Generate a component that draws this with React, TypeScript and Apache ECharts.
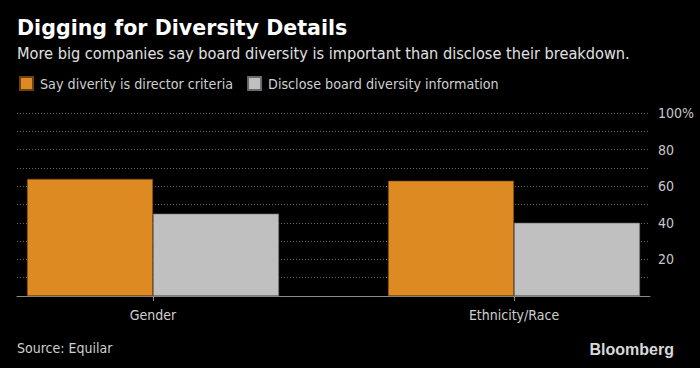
import React, { useEffect, useRef } from "react";
import * as echarts from "echarts";

const categories = ["Gender", "Ethnicity/Race"];
const seriesNames = ["Say diverity is director criteria", "Disclose board diversity information"];
const sayCriteria = [64, 63];
const discloseInfo = [45, 40];
const yTicks = [0, 20, 40, 60, 80, 100];

const FONT = "'Liberation Sans Narrow', 'DejaVu Sans Condensed', 'Noto Sans', sans-serif";

export default function App() {
  const ref = useRef<HTMLDivElement>(null);
  useEffect(() => {
    document.body.style.margin = "0";
    document.body.style.background = "#000";
    const chart = echarts.init(ref.current!, null, { renderer: "svg" });
    chart.setOption({
      animation: false,
      backgroundColor: "#000",
      textStyle: { fontFamily: FONT },
      title: [
        {
          text: "Digging for Diversity Details",
          left: 17,
          top: 17,
          padding: 0,
          textStyle: { color: "#fff", fontSize: 20.6, fontWeight: "bold", fontFamily: "'DejaVu Sans', sans-serif" },
        },
        {
          text: "More big companies say board diversity is important than disclose their breakdown.",
          left: 17,
          top: 45,
          padding: 0,
          textStyle: { color: "#e0e0e0", fontSize: 16.2, fontWeight: "normal", fontFamily: FONT },
        },
        {
          text: "Source: Equilar",
          left: 17,
          top: 341,
          padding: 0,
          textStyle: { color: "#cfcfcf", fontSize: 14, fontWeight: "normal", fontFamily: FONT },
        },
        {
          text: "Bloomberg",
          right: 26,
          top: 341,
          padding: 0,
          textStyle: { color: "#d8d8d8", fontSize: 16, fontWeight: "bold", fontFamily: "'Liberation Sans', sans-serif" },
        },
      ],
      legend: {
        left: 19,
        top: 76,
        padding: 0,
        itemWidth: 13,
        itemHeight: 13,
        itemGap: 14,
        icon: "rect",
        textStyle: { color: "#cfcfcf", fontSize: 14.2, fontFamily: FONT, padding: [0, 0, 0, 2] },
        data: seriesNames,
      },
      grid: [
        { left: 17, right: 50, top: 113, bottom: 72 },
        { left: 153, right: 186, top: 113, bottom: 72 },
      ],
      xAxis: [
        {
          gridIndex: 0,
          type: "category",
          data: ["_"],
          axisLine: { show: true, lineStyle: { color: "#8a8a8a", width: 1 } },
          axisTick: { show: false },
          axisLabel: { show: false },
        },
        {
          gridIndex: 1,
          type: "category",
          data: categories,
          boundaryGap: false,
          axisLine: { show: false },
          axisTick: { show: true, length: 5, lineStyle: { color: "#8a8a8a" } },
          axisLabel: { color: "#cfcfcf", fontSize: 14, margin: 12, fontFamily: FONT },
        },
      ],
      yAxis: [
        {
          gridIndex: 0,
          type: "value",
          position: "right",
          min: 0,
          max: 100,
          interval: 10,
          axisLine: { show: false },
          axisTick: { show: false },
          splitLine: { show: true, lineStyle: { color: "#6a6a6a", type: [1, 2], width: 1 } },
          axisLabel: {
            color: "#c8c8c8",
            fontSize: 14,
            margin: 8,
            fontFamily: FONT,
            formatter: (v: number) => (yTicks.includes(v) && v !== 0 ? (v === 100 ? "100%" : String(v)) : ""),
          },
        },
        {
          gridIndex: 1,
          type: "value",
          min: 0,
          max: 100,
          show: false,
        },
      ],
      series: [
        {
          name: seriesNames[0],
          type: "bar",
          xAxisIndex: 1,
          yAxisIndex: 1,
          data: sayCriteria,
          clip: false,
          barWidth: 126,
          barGap: "0%",
          itemStyle: { color: "#dd8a23", borderColor: "#6b4210", borderWidth: 0.6 },
        },
        {
          name: seriesNames[1],
          type: "bar",
          xAxisIndex: 1,
          yAxisIndex: 1,
          data: discloseInfo,
          clip: false,
          barWidth: 126,
          barGap: "0%",
          itemStyle: { color: "#c0c0c0", borderColor: "#6a6a6a", borderWidth: 0.6 },
        },
      ],
    });
    return () => chart.dispose();
  }, []);
  return <div ref={ref} style={{ width: 700, height: 368 }} />;
}
